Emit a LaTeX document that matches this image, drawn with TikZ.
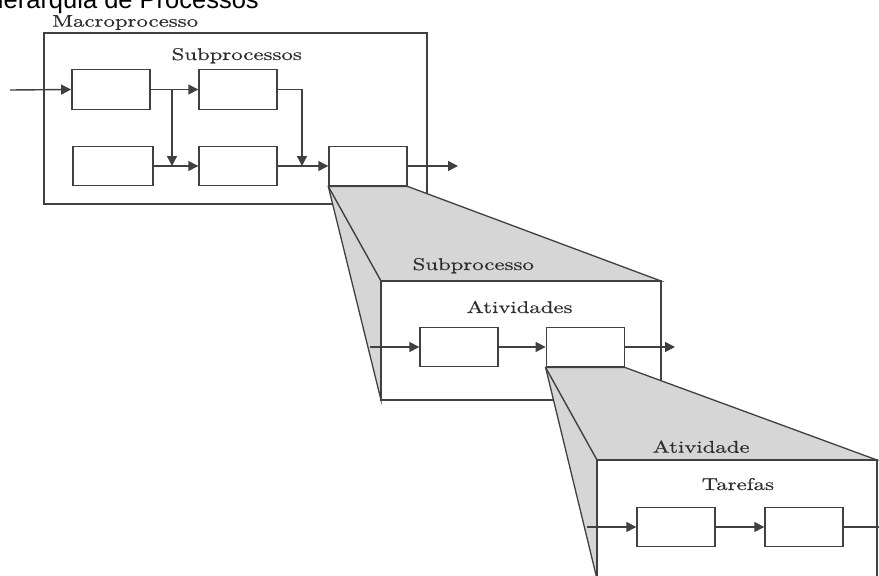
\documentclass[tikz,border=0pt]{standalone}
\usepackage{fontspec}
\usetikzlibrary{arrows.meta}
\newfontfamily\labfont{lmroman10-regular.otf}[FakeStretch=1.34, FakeBold=0.4]
\newfontfamily\titlefont{Liberation Sans}
\definecolor{ink}{HTML}{404040}
\definecolor{txt}{HTML}{2E2E2E}
\definecolor{shade}{HTML}{D6D6D6}
\tikzset{
  frame/.style={draw=ink, line width=1.4pt, fill=white, inner sep=0pt},
  stepbox/.style={frame, minimum width=78pt, minimum height=39.5pt},
  flow/.style={draw=ink, line width=1.4pt, -{Triangle[length=10pt,width=10pt]}},
  plain/.style={draw=ink, line width=1.4pt},
  cone/.style={fill=shade, draw=ink, line width=1.3pt, line join=miter},
  lab/.style={anchor=base west, inner sep=0pt, text=txt, font=\labfont\fontsize{17}{20}\selectfont},
}
\begin{document}
\begin{tikzpicture}[x=1pt, y=-1pt]
\useasboundingbox (0,0) rectangle (879,576);

% title
\node[anchor=base east, inner sep=0pt, font=\titlefont\fontsize{25.5}{30}\selectfont] (title) at (259,8) {Hierarquia de Processos};

% ---- macro process ----
\node[frame, minimum width=383pt, minimum height=171pt] (macro) at (235.5,118.5) {};
\node[lab] (macroLab) at (52,26.7) {Macroprocesso};
\node[lab] (subsLab) at (171.5,60) {Subprocessos};

\node[stepbox] (b1) at (110.8,89.5) {};
\node[stepbox] (b2) at (238,89.5) {};
\node[stepbox, minimum width=80pt] (b3) at (113,166) {};
\node[stepbox] (b4) at (238,166) {};
\node[stepbox] (b5) at (368,166) {};

\coordinate (in0) at (10,90);
\coordinate (j1) at (172,90);
\coordinate (j2) at (172,166);
\coordinate (j3) at (302,166);
\coordinate (out1) at (458,166);

\draw[flow] (in0) -- (b1.west);
\draw[flow] (b1.east) -- (b2.west);
\draw[flow] (j1) -- (j2);
\draw[flow] (b3.east) -- (b4.west);
\draw[flow] (b2.east) -| (j3);
\draw[flow] (b4.east) -- (b5.west);
\draw[flow] (b5.east) -- (out1);

% ---- zoom into one subprocess ----
\coordinate (subNW) at (381,281);
\coordinate (subNE) at (661,281);
\coordinate (subSW) at (381,400);
\draw[cone] (b5.south west) -- (b5.south east) -- (subNE) -- (subNW) -- (subSW) -- cycle;
\draw[plain] (b5.south west) -- (subNW);
\node[frame, minimum width=280pt, minimum height=119pt] (sub) at (521,340.5) {};
\node[lab] (subLab) at (412.5,270) {Subprocesso};
\node[lab] (actsLab) at (466.5,313) {Atividades};

\node[stepbox] (a1) at (459,347) {};
\node[stepbox] (a2) at (585.3,347) {};
\coordinate (in1) at (370,347);
\coordinate (out2) at (675,347);
\draw[flow] (in1) -- (a1.west);
\draw[flow] (a1.east) -- (a2.west);
\draw[flow] (a2.east) -- (out2);

% ---- zoom into one activity ----
\coordinate (actNW) at (597,460);
\coordinate (actNE) at (877,460);
\coordinate (actSW) at (597,579);
\draw[cone] (a2.south west) -- (a2.south east) -- (actNE) -- (actNW) -- (actSW) -- cycle;
\draw[plain] (a2.south west) -- (actNW);
\node[frame, minimum width=280pt, minimum height=119pt] (act) at (737,519.5) {};
\node[lab] (actLab) at (652.5,452.7) {Atividade};
\node[lab] (tasksLab) at (701.5,490) {Tarefas};

\node[stepbox] (t1) at (676,527) {};
\node[stepbox] (t2) at (804,527) {};
\coordinate (in2) at (586.7,527);
\coordinate (out3) at (880,527);
\draw[flow] (in2) -- (t1.west);
\draw[flow] (t1.east) -- (t2.west);
\draw[plain] (t2.east) -- (out3);
\end{tikzpicture}
\end{document}
